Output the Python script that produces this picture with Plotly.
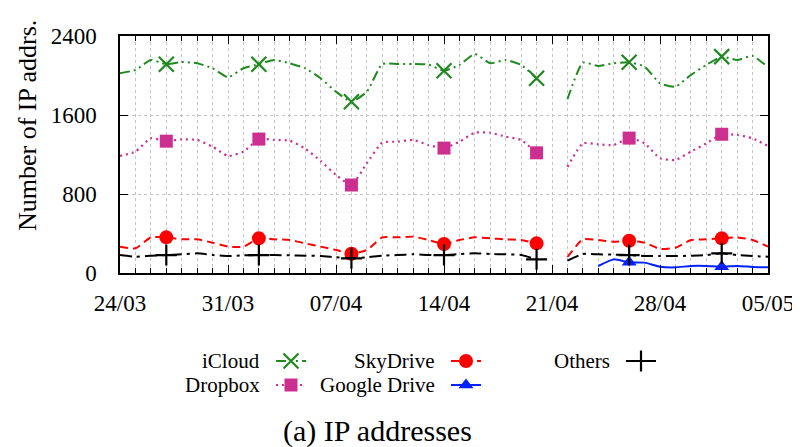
import pandas as pd
import plotly.graph_objects as go

dates = pd.date_range("2013-03-24", "2013-05-05", freq="D")
N = None
icloud = [2023, 2056, 2157, 2114, 2137, 2124, 2073, 1982, 2073, 2114, 2157, 2124, 2073, 1972, 1836,
          1735, 1836, 2117, 2117, 2117, 2110, 2049, 2107, 2218, 2124, 2157, 2107, 1972, N, 1759,
          2130, 2097, 2124, 2134, 2090, 1921, 1887, 2005, 2107, 2191, 2157, 2198, 2083]
dropbox = [1185, 1229, 1364, 1335, 1354, 1347, 1279, 1185, 1229, 1356, 1347, 1340, 1260, 1135, 993,
           891, 1113, 1320, 1330, 1347, 1296, 1265, 1330, 1421, 1421, 1381, 1347, 1217, N, 1075,
           1313, 1303, 1296, 1366, 1313, 1162, 1145, 1229, 1313, 1405, 1398, 1364, 1286]
skydrive = [267, 250, 361, 361, 341, 341, 307, 267, 267, 351, 341, 334, 300, 267, 233,
            195, 233, 361, 361, 368, 334, 294, 334, 361, 351, 341, 334, 300, N, 162,
            341, 334, 317, 327, 307, 243, 256, 334, 341, 351, 361, 334, 267]
others = [182, 165, 175, 182, 189, 199, 182, 172, 179, 182, 182, 179, 175, 172, 159,
          149, 159, 175, 182, 189, 182, 182, 192, 199, 192, 189, 182, 138, N, 125,
          192, 189, 186, 182, 172, 172, 172, 175, 182, 199, 182, 172, 165]
gdrive = [N] * 31 + [71, 138, 108, 105, 64, 57, 71, 71, 64, 71, 61, 57]

marker_idx = [3, 9, 15, 21, 27, 33, 39]
y_ticks = [0, 800, 1600, 2400]

FONT = "Liberation Serif"
GREEN = "#1f8a1f"
MAGENTA = "#cc2f8f"
RED = "#ff0000"
BLUE = "#0022ff"
BLACK = "#000000"

# page body has an 8px margin: place everything in page-pixel terms
OFF = 8
W, H = 800, 447

series = [
    ("iCloud", icloud, GREEN, "10px,4px,2px,4px,2px,4px", "x-thin-open", 15, 2, "open"),
    ("Dropbox", dropbox, MAGENTA, "2px,4px", "square", 13, 2.2, "fill"),
    ("SkyDrive", skydrive, RED, "8px,5px", "circle", 14, 2, "fill"),
    ("Google Drive", gdrive, BLUE, "solid", "triangle-up", 13, 2, "fill"),
    ("Others", others, BLACK, "12px,5px,3px,5px", "cross-thin-open", 15, 2, "open"),
]

fig = go.Figure()
for name, vals, col, dash, sym, msize, lw, kind in series:
    sizes = [msize if (i in marker_idx and vals[i] is not None) else 0 for i in range(len(vals))]
    mk = dict(symbol=sym, size=sizes, color=col, opacity=1)
    if kind == "open":
        mk["line"] = dict(color=col, width=2.2)
    else:
        mk["line"] = dict(width=0)
    fig.add_trace(go.Scatter(
        x=dates, y=vals, name=name, mode="lines+markers",
        line=dict(color=col, width=lw, dash=dash, shape="spline", smoothing=0.5),
        marker=mk, connectgaps=False, showlegend=False, cliponaxis=False,
    ))

# custom gnuplot-like legend (page-pixel coordinates on an invisible overlay axis)
legend_pos = {
    "iCloud": (262, 361), "Dropbox": (262, 385), "SkyDrive": (437, 361),
    "Google Drive": (437, 385), "Others": (612, 361),
}
for name, vals, col, dash, sym, msize, lw, kind in series:
    tx, ty = legend_pos[name]
    x0 = tx + 14
    xs = [x0, x0 + 15, x0 + 30]
    mk = dict(symbol=sym, size=[0, msize, 0], color=col, opacity=1)
    mk["line"] = dict(color=col, width=2.2) if kind == "open" else dict(width=0)
    fig.add_trace(go.Scatter(
        x=xs, y=[ty, ty, ty], xaxis="x2", yaxis="y2", mode="lines+markers",
        line=dict(color=col, width=lw, dash=dash), marker=mk,
        showlegend=False, cliponaxis=False, hoverinfo="skip",
    ))
    fig.add_annotation(x=tx, y=ty, xref="x2", yref="y2", text=name, showarrow=False,
                       xanchor="right", yanchor="middle",
                       font=dict(family=FONT, size=21, color="black"))

fig.add_annotation(x=27, y=126, xref="x2", yref="y2", text="Number of IP addrs.",
                   textangle=-90, showarrow=False,
                   font=dict(family=FONT, size=26, color="black"))
fig.add_annotation(x=377, y=431, xref="x2", yref="y2", text="(a) IP addresses",
                   showarrow=False, font=dict(family=FONT, size=30, color="black"))

DAY = 86400000
fig.update_layout(
    width=W, height=H, margin=dict(l=0, r=0, t=0, b=0, pad=0, autoexpand=False),
    paper_bgcolor="white", plot_bgcolor="rgba(0,0,0,0)",
    font=dict(family=FONT, size=22, color="black"),
    xaxis=dict(
        type="date", domain=[(120 - OFF) / W, (768 - OFF) / W],
        range=["2013-03-24", "2013-05-05"],
        tick0="2013-03-24", dtick=7 * DAY, tickformat="%d/%m",
        ticks="inside", ticklen=8, tickcolor="black", tickwidth=1.2,
        showline=True, linecolor="black", linewidth=1.5, mirror="allticks",
        showgrid=True, gridcolor="#c4c4c4", griddash="dot", gridwidth=1,
        minor=dict(dtick=DAY, tick0="2013-03-24", ticks="inside", ticklen=5,
                   tickcolor="black", showgrid=True, gridcolor="#c4c4c4",
                   griddash="dot", gridwidth=1),
        ticklabelstandoff=9, zeroline=False, anchor="y", automargin=False,
        tickfont=dict(family=FONT, size=23),
    ),
    yaxis=dict(
        domain=[1 - (273 - OFF) / H, 1 - (36 - OFF) / H], range=[0, 2400],
        tickvals=y_ticks, ticktext=[str(v) for v in y_ticks],
        ticks="inside", ticklen=8, tickcolor="black", tickwidth=1.2,
        showline=True, linecolor="black", linewidth=1.5, mirror="allticks",
        showgrid=True, gridcolor="#c4c4c4", griddash="dot", gridwidth=1,
        ticklabelstandoff=17, zeroline=False, anchor="x", automargin=False,
        tickfont=dict(family=FONT, size=23),
    ),
    xaxis2=dict(domain=[0, 1], range=[OFF, W + OFF], visible=False, anchor="y2", fixedrange=True),
    yaxis2=dict(domain=[0, 1], range=[H + OFF, OFF], visible=False, anchor="x2", fixedrange=True),
)

fig.write_html("out.html")
